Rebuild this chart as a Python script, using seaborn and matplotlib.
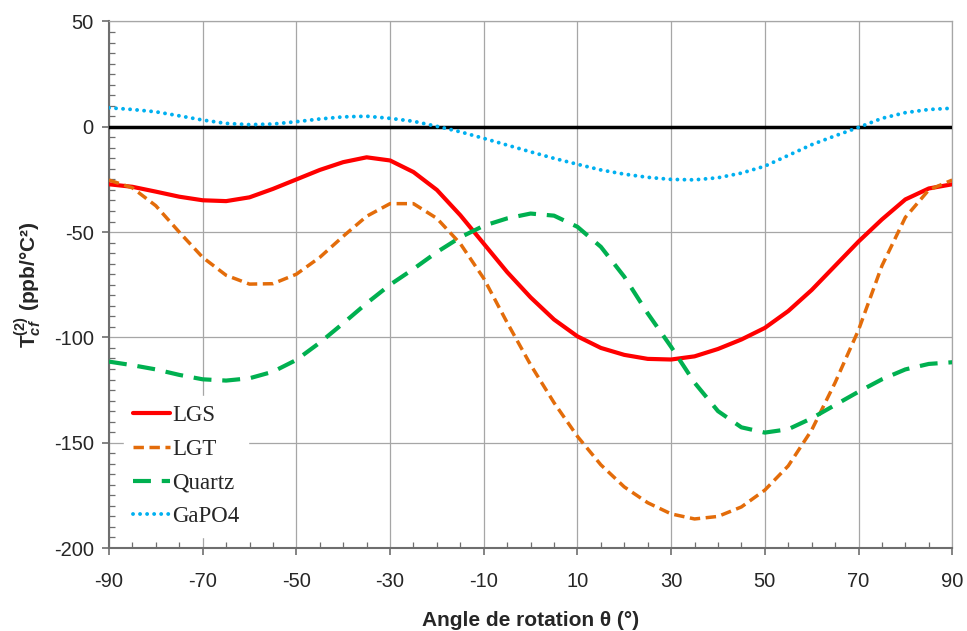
import numpy as np
import pandas as pd
import matplotlib
matplotlib.use("Agg")
import matplotlib.pyplot as plt
import seaborn as sns
from matplotlib.ticker import MultipleLocator

# Rotation angle (deg) and second-order temperature coefficient (ppb/°C²)
angles = list(range(-90, 91, 5))

lgs = [-27.3, -28.5, -30.8, -33.2, -34.9, -35.3, -33.5, -29.5, -25.0, -20.5,
       -16.8, -14.5, -16.0, -21.5, -30.0, -42.0, -55.5, -69.0, -81.0, -91.5,
       -99.5, -105.0, -108.3, -110.2, -110.5, -109.0, -105.5, -101.0, -95.5,
       -87.5, -77.5, -66.0, -54.5, -44.0, -34.5, -29.3, -27.3]

lgt = [-25.3, -29.0, -37.5, -50.0, -62.0, -70.5, -74.7, -74.5, -70.0, -62.0,
       -52.0, -42.5, -36.5, -36.5, -43.5, -55.5, -72.0, -93.0, -113.0, -131.0,
       -147.0, -160.5, -171.0, -178.5, -183.8, -186.2, -185.0, -180.5, -172.5,
       -161.0, -144.0, -121.5, -96.5, -66.0, -43.0, -30.0, -25.3]

quartz = [-111.5, -113.2, -115.2, -117.8, -119.9, -120.5, -119.4, -116.3,
          -110.7, -102.5, -93.3, -83.8, -75.0, -67.5, -59.5, -52.5, -47.0,
          -43.5, -41.2, -42.2, -47.5, -57.0, -71.2, -88.6, -104.5, -121.5,
          -135.0, -142.7, -145.2, -143.6, -138.4, -132.1, -125.8, -119.9,
          -115.2, -112.6, -111.8]

gapo4 = [9.0, 8.2, 7.1, 5.2, 3.2, 1.6, 1.0, 1.3, 2.4, 3.7, 4.7, 5.0, 4.0, 2.6,
         0.2, -2.4, -5.5, -8.7, -11.9, -15.0, -17.8, -20.5, -22.5, -24.0,
         -25.0, -25.2, -24.2, -22.0, -18.7, -13.6, -8.5, -4.3, -0.3, 4.0, 6.7,
         8.2, 8.8]

series = [
    ("LGS", lgs, "#FF0000", "-", 3.0),
    ("LGT", lgt, "#E36C0A", (0, (3.0, 1.6)), 2.5),
    ("Quartz", quartz, "#00B050", (0, (4.3, 2.6)), 3.0),
    ("GaPO4", gapo4, "#00B0F0", (0, (0.01, 1.8)), 2.8),
]

sns.set_style("white")
plt.rcParams["font.family"] = ["Liberation Sans", "DejaVu Sans"]
plt.rcParams["axes.unicode_minus"] = False
plt.rcParams["mathtext.fontset"] = "custom"
plt.rcParams["mathtext.rm"] = "Liberation Sans:bold"
plt.rcParams["mathtext.it"] = "Liberation Sans:bold:italic"
plt.rcParams["mathtext.bf"] = "Liberation Sans:bold"

fig = plt.figure(figsize=(9.67, 6.31), dpi=100)
ax = fig.add_axes([0.1127, 0.1315, 0.872, 0.8345])

ax.axhline(0, color="black", lw=2.5, zorder=3)

for name, vals, col, ls, lw in series:
    df = pd.DataFrame({"angle": angles, "val": vals})
    sns.lineplot(data=df, x="angle", y="val", ax=ax, color=col, lw=lw,
                 linestyle=ls, label=name, zorder=4,
                 dash_capstyle="round" if name == "GaPO4" else "butt")

ax.set_xlim(-90, 90)
ax.set_ylim(-200, 50)
ax.xaxis.set_minor_locator(MultipleLocator(5))
ax.yaxis.set_major_locator(MultipleLocator(50))
ax.yaxis.set_minor_locator(MultipleLocator(5))
ax.set_xticks(np.arange(-90, 91, 20))

ax.grid(True, which="major", color="#A6A6A6", lw=0.9)
ax.set_axisbelow(True)
for side in ["top", "right"]:
    ax.spines[side].set_color("#A6A6A6")
    ax.spines[side].set_linewidth(0.9)
for side in ["left", "bottom"]:
    ax.spines[side].set_color("#6E6E6E")
    ax.spines[side].set_linewidth(1.5)

ax.tick_params(which="major", direction="out", length=5, width=1.2,
               color="#6E6E6E", labelsize=14.5, left=True, bottom=True)
ax.tick_params(axis="x", which="major", pad=12)
ax.tick_params(axis="y", which="major", pad=6)
ax.tick_params(which="minor", direction="in", length=4, width=0.9,
               color="#6E6E6E", left=True, bottom=True)

ax.set_xlabel("Angle de rotation θ (°)", fontsize=15, fontweight="bold",
              labelpad=15)
ax.set_ylabel(r"T$_{cf}^{(2)}$ (ppb/°C²)", fontsize=15, fontweight="bold",
              labelpad=7)

leg = ax.legend(loc="lower left", bbox_to_anchor=(0.004, 0.0), frameon=True,
                fancybox=False, edgecolor="white", framealpha=1,
                prop={"family": "Liberation Serif", "size": 16.5},
                handlelength=1.6, handletextpad=0.1, labelspacing=0.55,
                borderpad=0.4)

fig.savefig("out.png", dpi=100)
